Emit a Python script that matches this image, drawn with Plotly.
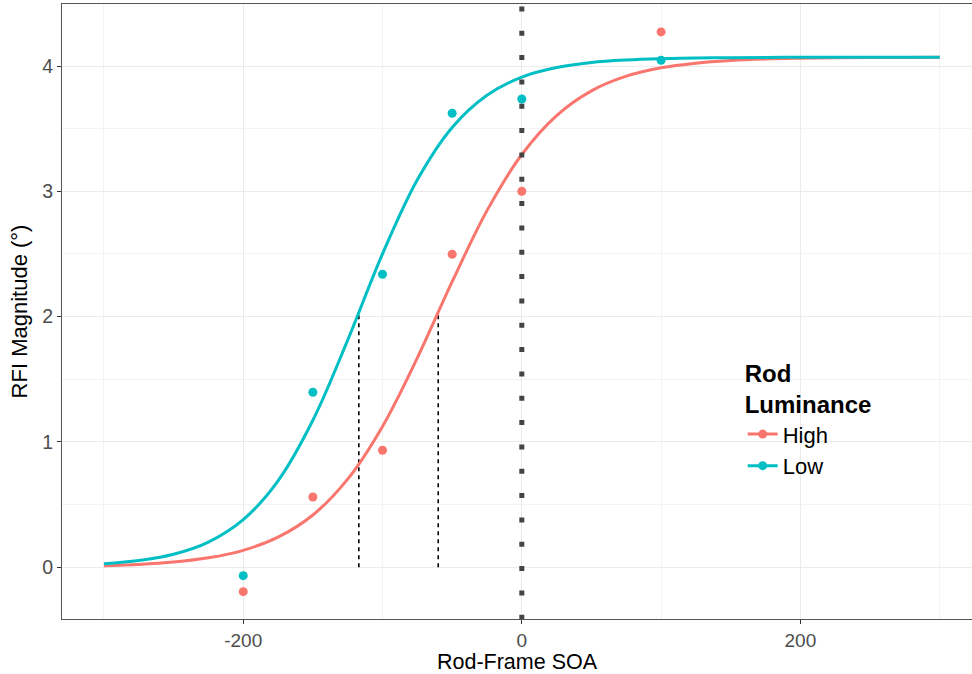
import plotly.graph_objects as go

# Observed data points
soa = [-200, -150, -100, -50, 0, 100]
high_pts = [-0.195, 0.561, 0.934, 2.498, 3.0, 4.272]
low_pts = [-0.067, 1.397, 2.338, 3.623, 3.737, 4.046]

# Fitted curves
curve_x = [-300, -275, -250, -225, -200, -175, -150, -125, -100, -75, -50, -25,
           0, 25, 50, 75, 100, 125, 150, 175, 200, 225, 250, 275, 300]
high_curve = [0.0125, 0.0228, 0.0414, 0.075, 0.135, 0.240, 0.417, 0.703, 1.124, 1.671,
              2.279, 2.846, 3.294, 3.605, 3.802, 3.919, 3.986, 4.023, 4.044, 4.056,
              4.062, 4.066, 4.068, 4.069, 4.070]
low_curve = [0.027, 0.053, 0.104, 0.201, 0.380, 0.690, 1.173, 1.813, 2.501, 3.092,
             3.510, 3.767, 3.912, 3.988, 4.029, 4.049, 4.059, 4.064, 4.067, 4.069,
             4.070, 4.070, 4.070, 4.070, 4.070]

# Threshold (midpoint) markers
thr_x = [-60, -117]
thr_y = [2.035, 2.035]

groups = ["High", "Low"]
colors = {"High": "#F8766D", "Low": "#00BFC4"}

FONT = "Liberation Sans, Arial, sans-serif"

fig = go.Figure()

# dashed threshold lines
for tx, ty in zip(thr_x, thr_y):
    fig.add_trace(go.Scatter(x=[tx, tx], y=[0, ty], mode="lines",
                             line=dict(color="black", width=1.6, dash="4px,4px"),
                             showlegend=False, hoverinfo="skip"))

# vertical dotted line at SOA = 0
fig.add_shape(type="line", xref="x", yref="paper", x0=0, x1=0, y0=0.996, y1=0,
              line=dict(color="#444444", width=5, dash="5px,19.33px"), layer="above")

for g, pts, cur in [("High", high_pts, high_curve), ("Low", low_pts, low_curve)]:
    fig.add_trace(go.Scatter(x=curve_x, y=cur, mode="lines", line_shape="spline",
                             line=dict(color=colors[g], width=3), showlegend=False))
    fig.add_trace(go.Scatter(x=soa, y=pts, mode="markers",
                             marker=dict(color=colors[g], size=9), showlegend=False))
    fig.add_trace(go.Scatter(x=[None], y=[None], mode="lines+markers", name=g,
                             line=dict(color=colors[g], width=3),
                             marker=dict(color=colors[g], size=9)))

fig.update_layout(
    width=972, height=674,
    margin=dict(l=62, r=0, t=4, b=55),
    paper_bgcolor="white", plot_bgcolor="white",
    font=dict(family=FONT, color="black"),
    legend=dict(
        title=dict(text="<b>Rod<br>Luminance</b>", font=dict(size=24, color="black")),
        font=dict(size=22, color="black"),
        x=0.748, y=0.436, xanchor="left", yanchor="top",
        bgcolor="rgba(0,0,0,0)", tracegroupgap=0, itemwidth=30,
    ),
    xaxis=dict(
        range=[-330.1, 323.2], tickvals=[-200, 0, 200], ticktext=["-200", "0", "200"],
        automargin=False,
        showgrid=True, gridcolor="#EBEBEB", gridwidth=1.1,
        minor=dict(tickvals=[-300, -100, 100, 300], showgrid=True, gridcolor="#F3F3F3", gridwidth=1),
        zeroline=False, showline=True, linecolor="#555555", linewidth=1, mirror=True,
        ticks="outside", ticklen=4, tickcolor="#333333", tickwidth=1,
        tickfont=dict(size=19, color="#4D4D4D", family=FONT),
        title=dict(text="Rod-Frame SOA", font=dict(size=21.5, color="black"), standoff=10),
    ),
    yaxis=dict(
        range=[-0.413, 4.495], tickvals=[0, 1, 2, 3, 4],
        automargin=False,
        showgrid=True, gridcolor="#EBEBEB", gridwidth=1.1,
        minor=dict(tickvals=[-0.5, 0.5, 1.5, 2.5, 3.5], showgrid=True, gridcolor="#F3F3F3", gridwidth=1),
        zeroline=False, showline=True, linecolor="#555555", linewidth=1, mirror=False,
        ticks="outside", ticklen=4, tickcolor="#333333", tickwidth=1,
        tickfont=dict(size=19.5, color="#4D4D4D", family=FONT),
        title=dict(text="RFI Magnitude (°)", font=dict(size=22, color="black"), standoff=8),
    ),
)

fig.write_html("out.html")
